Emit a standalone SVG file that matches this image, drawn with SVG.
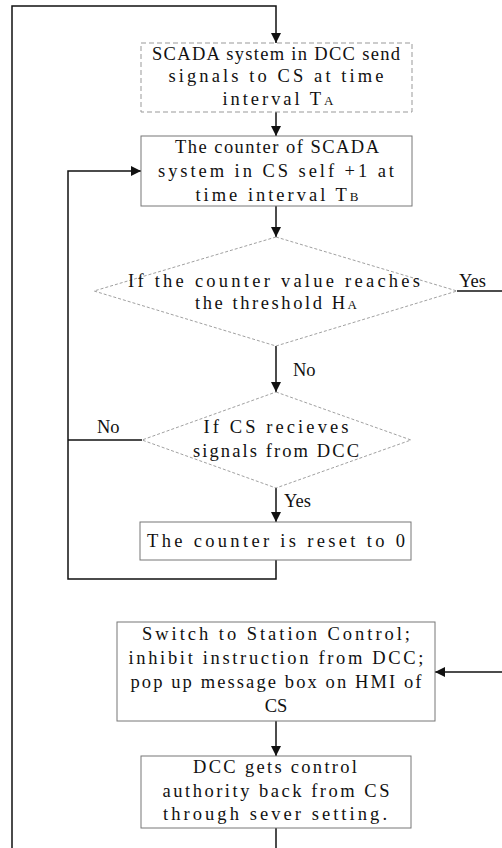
<svg xmlns="http://www.w3.org/2000/svg" width="502" height="848" viewBox="0 0 502 848">
<style>
text{font-family:"Liberation Serif","DejaVu Serif",serif;font-size:18.5px;fill:#111;text-anchor:middle}
.lbl{text-anchor:start}
.box{fill:#fff;stroke:#777;stroke-width:1}
.dash{fill:#fff;stroke:#999;stroke-width:1;stroke-dasharray:5 3}
.dia{fill:#fff;stroke:#888;stroke-width:0.8;stroke-dasharray:3 2}
.con{fill:none;stroke:#111;stroke-width:1.5}
.sub{font-size:13px}
</style>
<defs>
<marker id="ah" markerWidth="10" markerHeight="10" refX="10" refY="5" orient="auto" markerUnits="userSpaceOnUse" viewBox="0 0 10 10">
<path d="M0,0 L10,5 L0,10 z" fill="#111"/>
</marker>
</defs>
<g id="connectors">
<path class="con" d="M12,848 L12,6 L276,6 L276,43" marker-end="url(#ah)"/>
<path class="con" d="M276,112 L276,136" marker-end="url(#ah)"/>
<path class="con" d="M276,206 L276,237" marker-end="url(#ah)"/>
<path class="con" d="M276,346 L276,392" marker-end="url(#ah)"/>
<path class="con" d="M276,488 L276,522" marker-end="url(#ah)"/>
<path class="con" d="M142,440 L68,440"/>
<path class="con" d="M276,560 L276,579 L68,579 L68,171 L141,171" marker-end="url(#ah)"/>
<path class="con" d="M457,291 L502,291"/>
<path class="con" d="M502,672 L435,672" marker-end="url(#ah)"/>
<path class="con" d="M276,721 L276,756" marker-end="url(#ah)"/>
<path class="con" d="M276,828 L276,848"/>
<text class="lbl" x="459" y="287">Yes</text>
<text class="lbl" x="293" y="376">No</text>
<text class="lbl" x="97" y="433">No</text>
<text class="lbl" x="284" y="507">Yes</text>
</g>
<g id="n1">
<rect class="dash" x="141" y="43" width="271" height="69"/>
<text x="276" y="60" textLength="248" lengthAdjust="spacing">SCADA system in DCC send</text>
<text x="276" y="82" textLength="215" lengthAdjust="spacing">signals to CS at time</text>
<text x="278" y="105" textLength="111" lengthAdjust="spacing">interval T<tspan class="sub">A</tspan></text>
</g>
<g id="n2">
<rect class="box" x="141" y="136" width="271" height="70"/>
<text x="277" y="153" textLength="204" lengthAdjust="spacing">The counter of SCADA</text>
<text x="276" y="177" textLength="236" lengthAdjust="spacing">system in CS self +1 at</text>
<text x="277" y="201" textLength="163" lengthAdjust="spacing">time interval T<tspan class="sub">B</tspan></text>
</g>
<g id="n3">
<polygon class="dia" points="276,237 457,291 276,346 94,291"/>
<text x="274" y="287" textLength="292" lengthAdjust="spacing">If the counter value reaches</text>
<text x="276" y="309" textLength="162" lengthAdjust="spacing">the threshold H<tspan class="sub">A</tspan></text>
</g>
<g id="n4">
<polygon class="dia" points="276,392 411,440 276,488 142,440"/>
<text x="276" y="433" textLength="145" lengthAdjust="spacing">If CS recieves</text>
<text x="276" y="457" textLength="166" lengthAdjust="spacing">signals from DCC</text>
</g>
<g id="n5">
<rect class="box" x="140" y="522" width="271" height="38"/>
<text x="276" y="547" textLength="258" lengthAdjust="spacing">The counter is reset to 0</text>
</g>
<g id="n6">
<rect class="box" x="117" y="622" width="318" height="99"/>
<text x="276" y="640" textLength="268" lengthAdjust="spacing">Switch to Station Control;</text>
<text x="276" y="664" textLength="295" lengthAdjust="spacing">inhibit instruction from DCC;</text>
<text x="276" y="688" textLength="291" lengthAdjust="spacing">pop up message box on HMI of</text>
<text x="276" y="712">CS</text>
</g>
<g id="n7">
<rect class="box" x="141" y="756" width="270" height="72"/>
<text x="275" y="773" textLength="164" lengthAdjust="spacing">DCC gets control</text>
<text x="276" y="797" textLength="227" lengthAdjust="spacing">authority back from CS</text>
<text x="275" y="820" textLength="224" lengthAdjust="spacing">through sever setting.</text>
</g>
</svg>
